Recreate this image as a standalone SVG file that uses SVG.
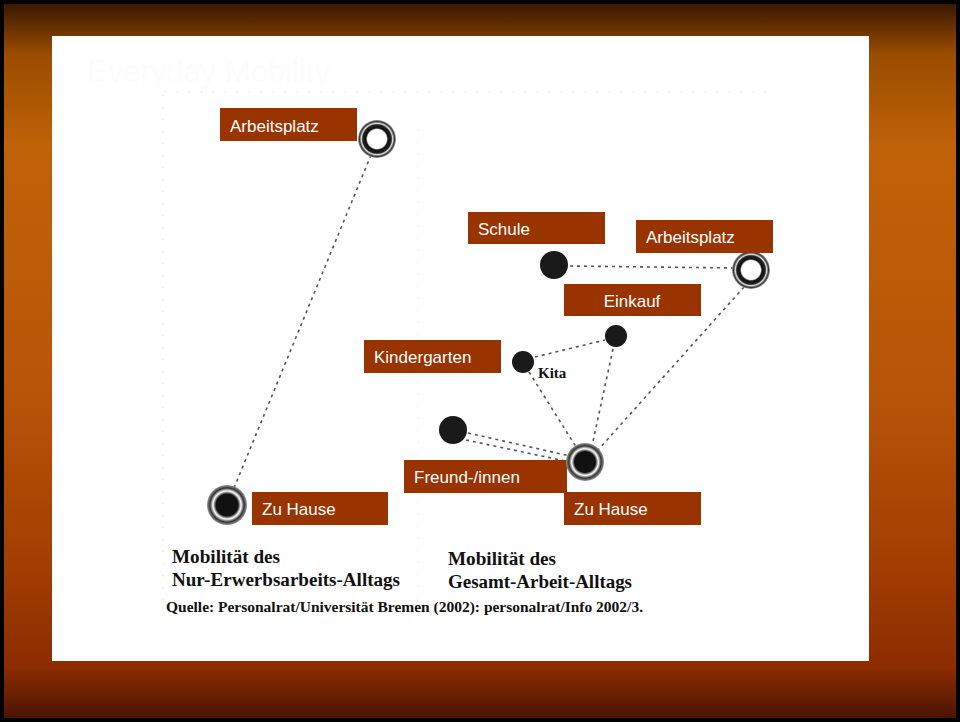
<svg xmlns="http://www.w3.org/2000/svg" width="960" height="722" viewBox="0 0 960 722">
<defs>
<linearGradient id="bg" x1="0" y1="0" x2="0" y2="1">
<stop offset="0" stop-color="#3a1800"/>
<stop offset="0.07" stop-color="#9a4c00"/>
<stop offset="0.2" stop-color="#c06208"/>
<stop offset="0.55" stop-color="#b85408"/>
<stop offset="0.8" stop-color="#a03c00"/>
<stop offset="0.93" stop-color="#8c2c00"/>
<stop offset="1" stop-color="#4a1400"/>
</linearGradient>
<radialGradient id="halo">
<stop offset="0.55" stop-color="#111"/>
<stop offset="0.7" stop-color="#fff"/>
<stop offset="0.85" stop-color="#333"/>
<stop offset="1" stop-color="#999"/>
</radialGradient>
<radialGradient id="ring">
<stop offset="0.5" stop-color="#fff"/>
<stop offset="0.58" stop-color="#111"/>
<stop offset="0.75" stop-color="#222"/>
<stop offset="0.82" stop-color="#ddd"/>
<stop offset="0.92" stop-color="#333"/>
<stop offset="1" stop-color="#aaa"/>
</radialGradient>
</defs>
<style>
.lbl{fill:#993300}
.lt{font-family:"Liberation Sans",Arial,sans-serif;font-size:17px;fill:#ffffff}
.dot{fill:#1a1a1a}
.cn{stroke:#555;stroke-width:1.6;stroke-dasharray:3 4;fill:none}
.fr{stroke:#d4d4d4;stroke-width:1;stroke-dasharray:1 11;fill:none}
.cap{font-family:"Liberation Serif","Times New Roman",serif;font-weight:bold;fill:#111}
</style>
<rect x="0" y="0" width="960" height="722" fill="#000"/>
<rect x="4" y="4" width="952" height="714" fill="url(#bg)"/>
<rect x="52" y="36" width="817" height="625" fill="#ffffff"/>
<text x="87" y="82" font-family="Liberation Sans,Arial,sans-serif" font-size="31" fill="#fcfcfc">Everyday Mobility</text>
<g id="frame">
<path class="fr" d="M165 92 H772 M163 95 V600 M418 130 V600"/>
</g>
<g id="connectors">
<path class="cn" d="M371 155 L234 488"/>
<path class="cn" d="M570 266 L735 268" stroke="#999"/>
<path class="cn" d="M535 357 L605 340"/>
<path class="cn" d="M529 372 L578 450"/>
<path class="cn" d="M613 349 L592 446"/>
<path class="cn" d="M744 287 L598 450"/>
<path class="cn" d="M468 433 L570 456"/>
<path class="cn" d="M466 440 L570 462"/>
</g>
<g id="n-arbeitsplatz-1">
<circle cx="377" cy="139" r="19" fill="url(#ring)"/>
<rect class="lbl" x="220" y="108" width="137" height="33"/>
<text class="lt" x="230" y="132">Arbeitsplatz</text>
</g>
<g id="n-zuhause-1">
<circle cx="227" cy="505" r="20" fill="url(#halo)"/>
<rect class="lbl" x="252" y="492" width="136" height="33"/>
<text class="lt" x="262" y="515">Zu Hause</text>
</g>
<g id="n-schule">
<circle class="dot" cx="554" cy="265" r="14"/>
<rect class="lbl" x="468" y="212" width="137" height="32"/>
<text class="lt" x="478" y="235">Schule</text>
</g>
<g id="n-arbeitsplatz-2">
<circle cx="751" cy="270" r="19" fill="url(#ring)"/>
<rect class="lbl" x="636" y="220" width="137" height="33"/>
<text class="lt" x="646" y="243">Arbeitsplatz</text>
</g>
<g id="n-einkauf">
<circle class="dot" cx="616" cy="336" r="11"/>
<rect class="lbl" x="564" y="284" width="137" height="32"/>
<text class="lt" x="632" y="307" text-anchor="middle">Einkauf</text>
</g>
<g id="n-kita">
<circle class="dot" cx="523" cy="362" r="11"/>
<text class="cap" x="538" y="378" font-size="15">Kita</text>
<rect class="lbl" x="364" y="340" width="137" height="33"/>
<text class="lt" x="374" y="363">Kindergarten</text>
</g>
<g id="n-freund">
<circle class="dot" cx="453" cy="430" r="14"/>
<rect class="lbl" x="404" y="460" width="163" height="33"/>
<text class="lt" x="414" y="483">Freund-/innen</text>
</g>
<g id="n-zuhause-2">
<circle cx="585" cy="462" r="19" fill="url(#halo)"/>
<rect class="lbl" x="564" y="492" width="137" height="33"/>
<text class="lt" x="574" y="515">Zu Hause</text>
</g>
<g id="captions">
<text class="cap" x="172" y="563" font-size="18" textLength="108" lengthAdjust="spacingAndGlyphs">Mobilität des</text>
<text class="cap" x="172" y="586" font-size="18" textLength="228" lengthAdjust="spacingAndGlyphs">Nur-Erwerbsarbeits-Alltags</text>
<text class="cap" x="448" y="565" font-size="18" textLength="108" lengthAdjust="spacingAndGlyphs">Mobilität des</text>
<text class="cap" x="448" y="588" font-size="18" textLength="184" lengthAdjust="spacingAndGlyphs">Gesamt-Arbeit-Alltags</text>
<text class="cap" x="166" y="612" font-size="14.5" textLength="477" lengthAdjust="spacingAndGlyphs">Quelle: Personalrat/Universität Bremen (2002): personalrat/Info 2002/3.</text>
</g>
</svg>
